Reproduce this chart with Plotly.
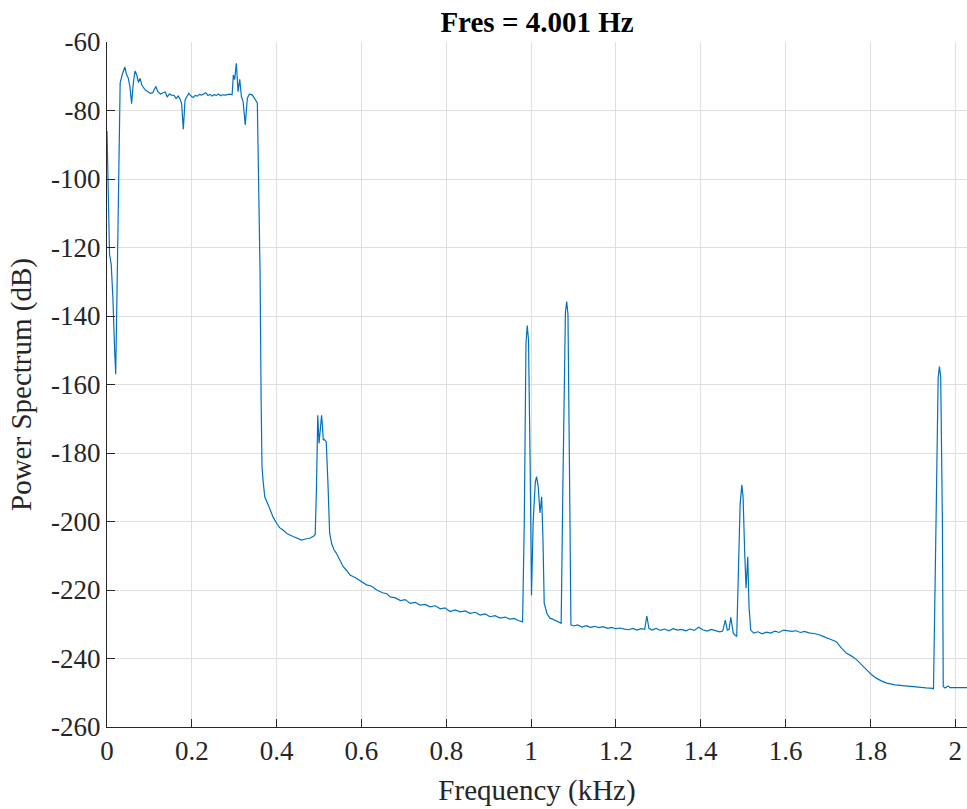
import plotly.graph_objects as go

# Frequency (kHz) and power spectrum (dB)
freq_khz = [
    0.000, 0.003, 0.006, 0.010, 0.014, 0.018, 0.0205, 0.024, 0.027, 0.031,
    0.036, 0.042, 0.046, 0.050, 0.054, 0.058, 0.062, 0.066, 0.070, 0.074,
    0.078, 0.082, 0.087, 0.092, 0.097, 0.102, 0.108, 0.115, 0.120, 0.126,
    0.132, 0.137, 0.142, 0.147, 0.152, 0.158, 0.163, 0.168, 0.172, 0.176,
    0.180, 0.184, 0.188, 0.193, 0.198, 0.203, 0.208, 0.213, 0.218, 0.223,
    0.228, 0.233, 0.238, 0.243, 0.248, 0.253, 0.258, 0.263, 0.268, 0.273,
    0.278, 0.283, 0.290, 0.295, 0.298, 0.301, 0.305, 0.309, 0.313, 0.317,
    0.321, 0.326, 0.331, 0.336, 0.343, 0.3545, 0.358, 0.361, 0.3635, 0.3655,
    0.368, 0.372, 0.378, 0.384, 0.392, 0.400, 0.407, 0.415, 0.425, 0.439,
    0.449, 0.459, 0.468, 0.478, 0.487, 0.491, 0.494, 0.497, 0.500, 0.503,
    0.506, 0.508, 0.510, 0.512, 0.517, 0.521, 0.525, 0.530, 0.535, 0.541,
    0.549, 0.557, 0.565, 0.573, 0.586, 0.600, 0.612, 0.624, 0.636, 0.650,
    0.660, 0.668, 0.680, 0.692, 0.703, 0.715, 0.727, 0.738, 0.750, 0.762,
    0.774, 0.786, 0.797, 0.809, 0.821, 0.833, 0.845, 0.856, 0.868, 0.880,
    0.892, 0.903, 0.915, 0.927, 0.939, 0.950, 0.960, 0.970, 0.980, 0.984,
    0.988, 0.991, 0.994, 0.998, 1.001, 1.005, 1.010, 1.013, 1.017, 1.021,
    1.025, 1.028, 1.031, 1.038, 1.045, 1.051, 1.057, 1.064, 1.071, 1.075,
    1.081, 1.084, 1.087, 1.091, 1.094, 1.100, 1.110, 1.120, 1.130, 1.140,
    1.150, 1.160, 1.170, 1.180, 1.190, 1.200, 1.210, 1.220, 1.230, 1.240,
    1.250, 1.260, 1.268, 1.273, 1.278, 1.285, 1.295, 1.305, 1.315, 1.325,
    1.335, 1.345, 1.355, 1.365, 1.375, 1.385, 1.395, 1.405, 1.415, 1.425,
    1.435, 1.445, 1.452, 1.458, 1.463, 1.467, 1.471, 1.477, 1.485, 1.489,
    1.493, 1.497, 1.500, 1.504, 1.507, 1.511, 1.514, 1.518, 1.525, 1.535,
    1.545, 1.555, 1.565, 1.575, 1.585, 1.595, 1.605, 1.615, 1.625, 1.635,
    1.645, 1.655, 1.666, 1.678, 1.690, 1.700, 1.710, 1.720, 1.732, 1.744,
    1.756, 1.768, 1.780, 1.792, 1.804, 1.815, 1.827, 1.839, 1.858, 1.878,
    1.898, 1.917, 1.932, 1.947, 1.949, 1.955, 1.960, 1.963, 1.966, 1.970,
    1.972, 1.976, 1.980, 1.984, 1.988, 1.995, 2.005, 2.015, 2.028,
]
power_db = [
    -86.0, -105.0, -122.0, -125.0, -135.0, -150.0, -157.0, -130.0, -98.0, -72.0,
    -69.5, -67.3, -69.5, -70.5, -73.0, -78.0, -72.0, -68.5, -69.5, -71.8,
    -70.6, -72.5, -73.5, -74.2, -74.5, -75.0, -74.8, -73.0, -74.5, -75.2,
    -74.8, -74.6, -76.0, -75.2, -75.5, -75.6, -76.5, -75.8, -76.6, -78.0,
    -85.5, -77.0, -76.0, -75.0, -75.8, -76.2, -75.6, -75.8, -75.3, -75.5,
    -75.2, -74.8, -75.6, -75.3, -75.8, -75.4, -75.6, -75.2, -75.7, -75.4,
    -75.5, -75.3, -75.2, -75.4, -69.6, -71.0, -66.2, -74.5, -70.9, -76.0,
    -77.4, -84.2, -76.4, -75.2, -75.5, -77.8, -100.0, -128.0, -165.0, -184.0,
    -188.0, -192.8, -194.5, -196.6, -198.8, -200.5, -201.8, -202.5, -203.6, -204.4,
    -205.0, -205.4, -205.1, -204.9, -204.3, -203.8, -190.0, -169.0, -177.2, -172.0,
    -169.0, -172.0, -176.2, -176.0, -176.7, -188.8, -203.4, -206.5, -208.2, -209.3,
    -211.5, -213.2, -214.3, -215.6, -216.4, -217.6, -218.5, -218.9, -220.0, -220.8,
    -221.1, -222.0, -222.3, -223.1, -222.8, -223.9, -223.6, -224.4, -224.2, -224.9,
    -224.6, -225.5, -225.2, -226.3, -225.8, -226.4, -226.1, -226.8, -226.5, -227.3,
    -227.0, -227.8, -227.5, -228.2, -227.9, -228.5, -228.3, -228.9, -229.3, -200.0,
    -148.0, -142.8, -147.0, -185.0, -221.5, -200.0, -188.5, -186.9, -190.0, -197.5,
    -192.8, -205.0, -223.9, -227.0, -228.3, -228.5, -228.8, -229.2, -229.7, -190.0,
    -139.0, -135.8, -139.5, -190.0, -230.2, -230.5, -230.2, -230.8, -230.4, -230.9,
    -230.6, -231.0, -230.7, -231.2, -230.9, -231.3, -231.1, -231.4, -231.6, -231.2,
    -231.7, -231.3, -231.5, -227.6, -231.2, -231.7, -231.2, -231.8, -231.4, -231.9,
    -231.3, -231.7, -231.5, -231.9, -231.4, -231.8, -230.9, -231.6, -232.0, -231.5,
    -231.9, -232.2, -232.0, -228.8, -231.7, -231.5, -228.0, -232.7, -233.6, -215.0,
    -195.0, -189.3, -193.0, -210.0, -219.5, -210.3, -225.0, -231.7, -232.6, -232.2,
    -232.8, -232.3, -232.6, -232.0, -232.4, -231.7, -231.8, -232.1, -231.9, -232.4,
    -232.1, -232.5, -232.7, -233.0, -233.6, -234.0, -234.6, -235.1, -237.0, -238.5,
    -239.3, -240.4, -242.0, -243.4, -244.8, -245.8, -246.6, -247.2, -247.7, -248.0,
    -248.2, -248.4, -248.6, -248.7, -249.0, -200.0, -158.0, -154.8, -158.0, -200.0,
    -248.2, -248.6, -248.3, -248.0, -248.5, -248.5, -248.4, -248.6, -248.5,
]

x_tick_vals = [0, 0.2, 0.4, 0.6, 0.8, 1.0, 1.2, 1.4, 1.6, 1.8, 2.0]
x_tick_text = ["0", "0.2", "0.4", "0.6", "0.8", "1", "1.2", "1.4", "1.6", "1.8", "2"]
y_tick_vals = [-260, -240, -220, -200, -180, -160, -140, -120, -100, -80, -60]
y_tick_text = ["-260", "-240", "-220", "-200", "-180", "-160", "-140", "-120", "-100", "-80", "-60"]

title_text = "Fres = 4.001 Hz"
x_label = "Frequency (kHz)"
y_label = "Power Spectrum (dB)"

FONT = "Liberation Serif, Times New Roman, serif"
AX = "#262626"
GRID = "#dfdfdf"

W, H = 967, 809

fig = go.Figure()
fig.add_trace(go.Scatter(
    x=freq_khz, y=power_db, mode="lines",
    line=dict(color="#0072BD", width=1.2),
    hoverinfo="skip", showlegend=False,
))

fig.update_layout(
    width=W, height=H,
    margin=dict(l=107, r=0, t=42, b=82, pad=0),
    paper_bgcolor="white", plot_bgcolor="white",
    font=dict(family=FONT, size=27, color=AX),
    title=dict(text="<b>" + title_text + "</b>", x=537 / W, xanchor="center",
               y=1 - 22 / H, yanchor="middle", pad=dict(t=0, b=0),
               font=dict(family=FONT, size=29, color="black")),
)
fig.update_xaxes(
    range=[0, 2.028], tickvals=x_tick_vals, ticktext=x_tick_text,
    automargin=False,
    showgrid=True, gridcolor=GRID, gridwidth=1, zeroline=False,
    showline=True, linecolor=AX, linewidth=1, mirror=False,
    ticks="inside", ticklen=8, tickcolor=AX, tickwidth=1,
    tickfont=dict(family=FONT, size=27, color=AX),
    title=dict(text=x_label, font=dict(family=FONT, size=29, color=AX), standoff=14),
)
fig.update_yaxes(
    range=[-260, -60], tickvals=y_tick_vals, ticktext=y_tick_text,
    automargin=False,
    showgrid=True, gridcolor=GRID, gridwidth=1, zeroline=False,
    showline=True, linecolor=AX, linewidth=1, mirror=False,
    ticks="inside", ticklen=8, tickcolor=AX, tickwidth=1,
    tickfont=dict(family=FONT, size=27, color=AX),
    title=dict(text=y_label, font=dict(family=FONT, size=29, color=AX), standoff=10),
)

# Remove the default 8 px page margin so the figure fills the window exactly.
fig.write_html("out.html",
               config={"displayModeBar": False},
               post_script="document.body.style.margin='0';document.body.style.overflow='hidden';")
